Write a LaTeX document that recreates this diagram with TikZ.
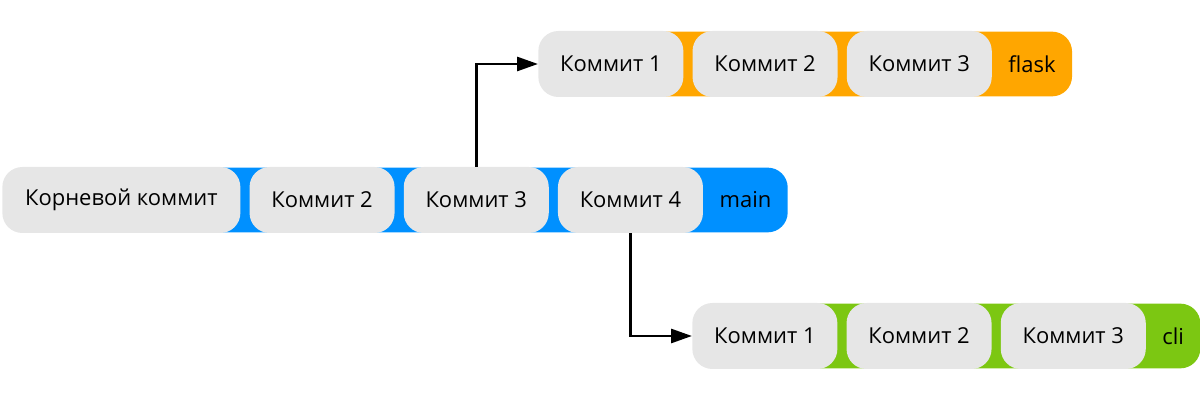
\documentclass[tikz,border=0pt]{standalone}
\usepackage{fontspec}
\setmainfont{Open Sans}
\usepackage{tikz}
\usetikzlibrary{positioning,arrows.meta,backgrounds}
\definecolor{mainblue}{RGB}{0,144,255}
\definecolor{flaskorange}{RGB}{255,166,0}
\definecolor{cligreen}{RGB}{124,199,18}
\definecolor{commitgray}{RGB}{230,230,230}
\tikzstyle{commit} = [rectangle, rounded corners=0.4cm, minimum width=2.9cm, minimum height=1.32cm, text centered, fill=commitgray, font=\fontsize{12.5}{15}\selectfont]
\tikzstyle{branchname} = [rectangle, minimum height=1.32cm, inner xsep=0.32cm, font=\fontsize{12.5}{15}\selectfont]
\tikzstyle{arrow} = [line width=1.6pt, -{Triangle[length=0.42cm,width=0.28cm]}]

\begin{document}
\begin{tikzpicture}[node distance=0.17cm]
\useasboundingbox (0,0) rectangle (24,8);
% main
\node (root) [commit, anchor=west, minimum width=4.76cm] at (0.04,4) {Корневой коммит};
\node (main2) [commit, right=of root] {Коммит 2};
\node (main3) [commit, right=of main2] {Коммит 3};
\node (main4) [commit, right=of main3] {Коммит 4};
\node (mainlbl) [branchname, right=0cm of main4] {main};
% flask
\node (flask1) [commit, anchor=west] at (10.76,6.72) {Коммит 1};
\node (flask2) [commit, right=of flask1] {Коммит 2};
\node (flask3) [commit, right=of flask2] {Коммит 3};
\node (flasklbl) [branchname, right=0cm of flask3] {flask};
% cli
\node (cli1) [commit, anchor=west] at (13.84,1.28) {Коммит 1};
\node (cli2) [commit, right=of cli1] {Коммит 2};
\node (cli3) [commit, right=of cli2] {Коммит 3};
\node (clilbl) [branchname, right=0cm of cli3] {cli};

% coloured branch bars, a hair thinner so no fringe shows
\begin{scope}[on background layer]
\fill [mainblue, rounded corners=0.4cm] ([yshift=-0.02cm]root.north) rectangle ([yshift=0.02cm]mainlbl.east |- root.south);
\fill [flaskorange, rounded corners=0.4cm] ([yshift=-0.02cm]flask1.north) rectangle ([yshift=0.02cm]flasklbl.east |- flask1.south);
\fill [cligreen, rounded corners=0.4cm] ([yshift=-0.02cm]cli1.north) rectangle ([yshift=0.02cm]clilbl.east |- cli1.south);
\end{scope}

\draw [arrow] (main3.north) |- (flask1.west);
\draw [arrow] (main4.south) |- (cli1.west);
\end{tikzpicture}
\end{document}
